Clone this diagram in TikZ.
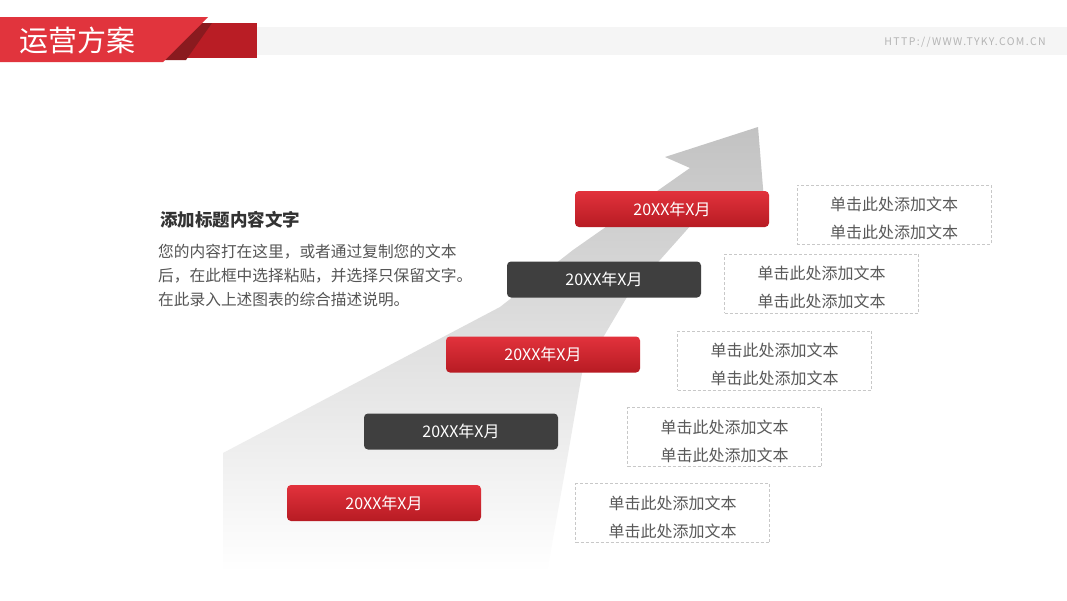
\documentclass[tikz,border=0pt]{standalone}
\usepackage{fontspec}
\setmainfont{Noto Sans CJK SC}
\definecolor{hred}{HTML}{E1343D}
\definecolor{hdark}{HTML}{B91D25}
\definecolor{hshadow}{HTML}{8A1A1F}
\definecolor{stripgray}{HTML}{F5F5F5}
\definecolor{urlgray}{HTML}{B4B4B4}
\definecolor{btntop}{HTML}{E2323C}
\definecolor{btnbot}{HTML}{B71B23}
\definecolor{btndark}{HTML}{3F3F3F}
\definecolor{notegray}{HTML}{C8C8C8}
\definecolor{notetext}{HTML}{595959}
\definecolor{titletext}{HTML}{333333}
\definecolor{bodytext}{HTML}{555555}
\definecolor{arrowtop}{HTML}{C2C2C2}
\newcommand{\notetxt}{\rule{0pt}{22pt}单击此处添加文本\\单击此处添加文本}
\tikzset{
  btn/.style={minimum width=194pt, minimum height=36pt, rounded corners=4pt,
    inner sep=0pt, text=white, font=\fontsize{16}{18}\selectfont},
  redbtn/.style={btn, top color=btntop, bottom color=btnbot},
  darkbtn/.style={btn, fill=btndark},
  note/.style={draw=notegray, line width=0.8pt, dash pattern=on 3pt off 2pt,
    minimum width=194pt, minimum height=59pt, inner sep=0pt, align=center,
    text=notetext, font=\fontsize{16}{28}\selectfont}
}
\begin{document}
\begin{tikzpicture}[x=1pt,y=-1pt]
\useasboundingbox (0,0) rectangle (1067,600);
\fill[white] (0,0) rectangle (1067,600);
% header
\fill[stripgray] (257,27) rectangle (1067,55);
\fill[hdark] (160,23) rectangle (257,58);
\fill[hshadow] (163,60) -- (203,23) -- (212,23) -- (186,60) -- cycle;
\fill[hred] (0,17) -- (208,17) -- (163,62) -- (0,62) -- cycle;
\node[anchor=west, text=white, font=\fontsize{29}{30}\selectfont, inner sep=0pt] (title) at (19,40) {运营方案};
\node[anchor=east, text=urlgray, font=\fontsize{10.5}{11}\selectfont\addfontfeatures{LetterSpace=13}, inner sep=0pt] (url) at (1046,42) {HTTP://WWW.TYKY.COM.CN};
% arrow
\shade[top color=arrowtop, bottom color=white]
  (758,127) -- (764,200) -- (700,215) -- (627,297) -- (582,373) -- (567,460) -- (547,572)
  -- (223,572) -- (223,453) -- (500,307) -- (573,250) -- (690,168) -- (665,157) -- cycle;
% left text
\node[anchor=west, text=titletext, font=\fontsize{17.5}{20}\selectfont\bfseries, inner sep=0pt] (head) at (160,220) {添加标题内容文字};
\node[anchor=north west, text=bodytext, align=left, font=\fontsize{15.7}{24}\selectfont, inner sep=0pt] (body) at (158,244)
  {您的内容打在这里，或者通过复制您的文本\\后，在此框中选择粘贴，并选择只保留文字。\\在此录入上述图表的综合描述说明。};
% steps
\node[redbtn]  (d1) at (672,209) {20XX年X月};
\node[darkbtn] (d2) at (604,279.5) {20XX年X月};
\node[redbtn]  (d3) at (543,354.5) {20XX年X月};
\node[darkbtn] (d4) at (461,431.5) {20XX年X月};
\node[redbtn]  (d5) at (384,503) {20XX年X月};
\node[note] (n1) at (894,214.5) {\notetxt};
\node[note] (n2) at (821.5,283.5) {\notetxt};
\node[note] (n3) at (774.5,360.5) {\notetxt};
\node[note] (n4) at (724.5,437) {\notetxt};
\node[note] (n5) at (672.5,513) {\notetxt};
\end{tikzpicture}
\end{document}
